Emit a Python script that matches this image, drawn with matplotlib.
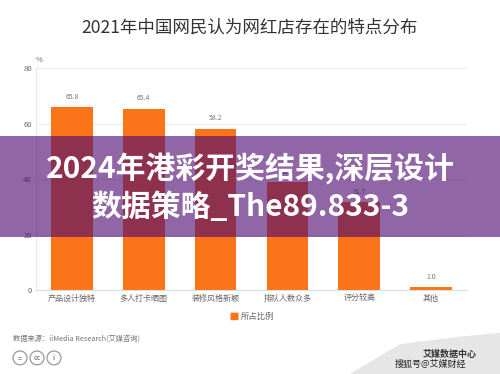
import matplotlib.pyplot as plt
import matplotlib.patches as mpatches
import numpy as np

plt.rcParams['font.family'] = ['Noto Sans CJK SC', 'DejaVu Sans']

# data
categories = ["产品设计独特", "多人打卡晒图", "装修风格新颖", "排队人数众多", "评分较高", "其他"]
shares = [65.8, 65.4, 58.2, 39.0, 31.7, 1.0]
y_ticks = [0, 20, 40, 60, 80]

title = "2021年中国网民认为网红店存在的特点分布"
legend_label = "所占比例"
source = "数据来源：iiMedia Research(艾媒咨询)"
banner_lines = ["2024年港彩开奖结果,深层设计", "数据策略_The89.833-3"]

ORANGE = "#fb7419"
GRAY_TXT = "#666666"

fig = plt.figure(figsize=(5, 3.74), dpi=100)
ax = fig.add_axes([0.072, 0.2246, 0.862, 0.5934])

x = np.arange(len(categories))
bars = ax.bar(x, shares, width=0.58, color=ORANGE, zorder=2)
for b, v in zip(bars, shares):
    ax.text(b.get_x() + b.get_width() / 2, v + 2.2, f"{v:.1f}",
            ha='center', va='bottom', fontsize=5, color="#777777")

ax.set_xlim(-0.5, len(categories) - 0.5)
ax.set_ylim(0, 80)
ax.set_yticks(y_ticks)
ax.set_yticklabels([str(t) for t in y_ticks], fontsize=5.5, color=GRAY_TXT)
ax.set_xticks(x)
ax.set_xticklabels(categories, fontsize=5.8, color=GRAY_TXT)
ax.tick_params(axis='both', length=0, pad=3)
ax.grid(axis='y', color='#eeeeee', linewidth=0.8, zorder=0)
for s in ['top', 'right']:
    ax.spines[s].set_visible(False)
ax.spines['left'].set_color('#e8e8e8')
ax.spines['bottom'].set_color('#dddddd')
ax.text(0.0, 1.02, "%", transform=ax.transAxes, fontsize=5.5, color=GRAY_TXT,
        ha='left', va='bottom')

fig.text(0.5, 0.925, title, ha='center', va='center', fontsize=12.6, color="#333333")

# legend
fig.patches.append(mpatches.FancyBboxPatch((0.462, 0.145), 0.014, 0.018,
                   boxstyle="round,pad=0.001", transform=fig.transFigure,
                   facecolor=ORANGE, edgecolor='none'))
fig.text(0.481, 0.153, legend_label, ha='left', va='center', fontsize=6, color=GRAY_TXT)

fig.text(0.026, 0.096, source, ha='left', va='center', fontsize=5.2, color="#777777")

# cc icons
for cx, sym in zip([0.040, 0.074, 0.108], ["=", "cc", "i"]):
    fig.patches.append(mpatches.Ellipse((cx, 0.043), 0.028, 0.037, transform=fig.transFigure,
                       facecolor='white', edgecolor='#999999', linewidth=0.9))
    fig.text(cx, 0.043, sym, ha='center', va='center', fontsize=5, color='#888888',
             fontweight='bold')

# bottom-right watermark
fig.patches.append(mpatches.Polygon([(0.70, 0.0), (0.80, 0.08), (0.92, 0.10), (1.0, 0.11),
                                     (1.0, 0.0)], closed=True, transform=fig.transFigure,
                                    facecolor='#e6e6e6', edgecolor='none'))
fig.text(0.90, 0.052, "艾媒数据中心", ha='center', va='center', fontsize=6.5,
         color='#333333', fontweight='bold')
fig.text(0.86, 0.025, "搜狐号@艾媒财经", ha='center', va='center', fontsize=6.5,
         color='#222222')

# purple banner overlay
fig.patches.append(mpatches.Rectangle((0, 1 - 237 / 374), 1, 101 / 374,
                   transform=fig.transFigure, facecolor='#4c0870', alpha=0.62,
                   edgecolor='none', zorder=5))
fig.text(0.5, 1 - 168 / 374, banner_lines[0], ha='center', va='center', fontsize=21.5,
         color='white', fontweight='bold', zorder=6)
fig.text(0.5, 1 - 207 / 374, banner_lines[1], ha='center', va='center', fontsize=21.5,
         color='white', fontweight='bold', zorder=6)

fig.savefig("out.png", dpi=100)
